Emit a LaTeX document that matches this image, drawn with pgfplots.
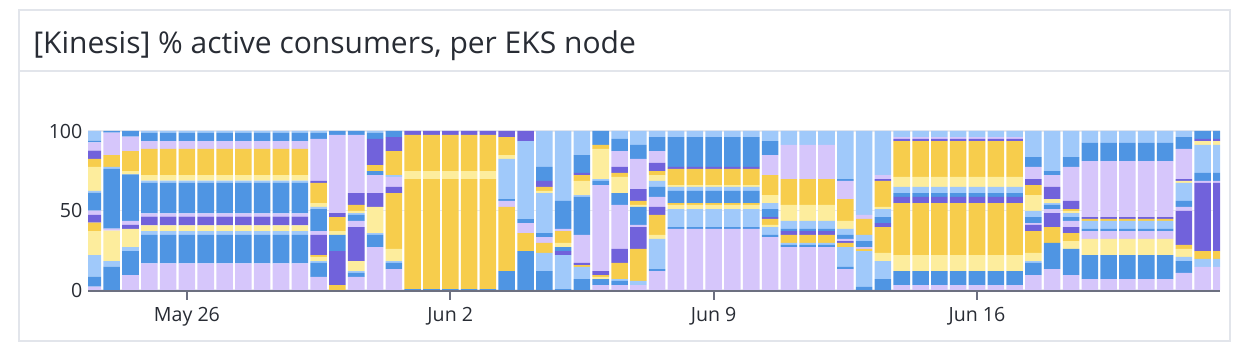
\documentclass[border=0pt]{standalone}
\usepackage{pgfplots}
\pgfplotsset{compat=1.18}
\usepackage{pgfplotstable}
\usepackage{fontspec}
\setmainfont{Open Sans}
\definecolor{cLP}{RGB}{214,198,251}
\definecolor{cB}{RGB}{79,149,227}
\definecolor{cLB}{RGB}{160,201,250}
\definecolor{cLY}{RGB}{253,237,157}
\definecolor{cY}{RGB}{247,205,76}
\definecolor{cDP}{RGB}{113,98,219}
\definecolor{framegray}{RGB}{226,229,235}
\definecolor{axisgray}{RGB}{108,112,128}
\definecolor{gridgray}{RGB}{232,233,238}
\definecolor{txt}{RGB}{40,44,52}

\pgfplotstableread{
x s1 s2 s3 s4 s5 s6 s7 s8 s9 s10 s11 s12 s13 s14 s15
-2.5 2.1 6.3 13.6 15.1 5.2 4.9 2.7 11.3 1.1 15.1 5.0 5.2 5.3 1.0 6.1
-2.0 0 14.7 3.5 19.1 0 0 1.3 37.5 1.3 0 7.5 0 14.1 1.0 0
-1.5 9.4 15.1 2.5 11.4 0 2.5 2.5 29.3 0 2.1 12.6 0 9.0 3.6 0
-1.0 16.8 17.8 2.5 3.6 0 5.4 2.1 19.3 1.3 3.5 16.4 0 5.0 5.3 1.0
-0.5 16.8 17.8 2.5 3.6 0 5.4 2.1 19.3 1.3 3.5 16.4 0 5.0 5.3 1.0
0.0 16.8 17.8 2.5 3.6 0 5.4 2.1 19.3 1.3 3.5 16.4 0 5.0 5.3 1.0
0.5 16.8 17.8 2.5 3.6 0 5.4 2.1 19.3 1.3 3.5 16.4 0 5.0 5.3 1.0
1.0 16.8 17.8 2.5 3.6 0 5.4 2.1 19.3 1.3 3.5 16.4 0 5.0 5.3 1.0
1.5 16.8 17.8 2.5 3.6 0 5.4 2.1 19.3 1.3 3.5 16.4 0 5.0 5.3 1.0
2.0 16.8 17.8 2.5 3.6 0 5.4 2.1 19.3 1.3 3.5 16.4 0 5.0 5.3 1.0
2.5 16.8 17.8 2.5 3.6 0 5.4 2.1 19.3 1.3 3.5 16.4 0 5.0 5.3 1.0
3.0 16.8 17.8 2.5 3.6 0 5.4 2.1 19.3 1.3 3.5 16.4 0 5.0 5.3 1.0
3.5 8.2 8.8 1.2 2.6 1.2 12.6 2.5 13.8 1.3 2.5 12.6 1.3 26.4 4.0 1.0
4.0 0 0 0 0 3.1 21.4 0 10.1 0 2.5 8.8 2.5 49.1 2.5 0
4.5 8.2 2.5 1.2 6.3 0 21.4 3.8 3.8 1.2 1.3 3.8 7.5 36.5 2.5 0
5.0 27.0 7.6 1.2 16.4 0 8.8 11.3 2.5 0 0 3.8 16.4 0 4.0 1.0
5.5 13.2 3.8 1.2 7.6 35.2 3.8 6.3 0 1.2 0 15.1 8.8 0 3.8 0
6.0 0 0.6 0 0 69.2 0 0 0 0 5.0 22.7 2.5 0 0 0
6.5 0 0.6 0 0 69.2 0 0 0 0 5.0 22.7 2.5 0 0 0
7.0 0 0.6 0 0 69.2 0 0 0 0 5.0 22.7 2.5 0 0 0
7.5 0 0.6 0 0 69.2 0 0 0 0 5.0 22.7 2.5 0 0 0
8.0 0 0.6 0 0 69.2 0 0 0 0 5.0 22.7 2.5 0 0 0
8.5 0 11.9 0 0 40.3 0 3.8 1.2 25.2 2.5 11.3 3.8 0 0 0
9.0 0 24.5 0 0 11.3 0 6.3 2.5 49.1 0 0 6.3 0 0 0
9.5 0 11.9 11.4 0 6.3 0 3.7 2.5 25.2 1.3 2.5 3.8 0 8.8 22.6
10.0 0 0.6 21.4 0 0 2.5 0 2.5 0 2.6 7.5 0 1.3 17.6 44.0
10.5 0 6.9 7.6 0 1.2 1.3 17.6 23.9 1.2 8.9 3.7 1.3 0 11.3 15.1
11.0 3.1 3.8 0 1.3 1.2 2.5 54.1 2.6 1.2 18.9 2.5 0 0 8.8 0
11.5 3.1 2.6 1.2 0 10.1 8.8 27.7 7.5 0 10.1 2.5 3.8 10.0 7.6 5.0
12.0 3.1 0 2.6 0 20.1 13.8 1.3 11.3 0 1.3 2.5 7.5 18.9 8.8 8.8
12.5 11.9 1.3 18.9 2.5 12.6 5.0 6.3 6.3 3.8 3.7 2.5 5.1 7.5 8.8 3.8
13.0 38.4 1.2 11.3 2.6 1.2 0 0 7.6 2.5 1.2 10.1 1.3 0 18.8 3.8
13.5 38.4 1.2 11.3 2.6 1.2 0 0 7.6 2.5 1.2 10.1 1.3 0 18.8 3.8
14.0 38.4 1.2 11.3 2.6 1.2 0 0 7.6 2.5 1.2 10.1 1.3 0 18.8 3.8
14.5 38.4 1.2 11.3 2.6 1.2 0 0 7.6 2.5 1.2 10.1 1.3 0 18.8 3.8
15.0 38.4 1.2 11.3 2.6 1.2 0 0 7.6 2.5 1.2 10.1 1.3 0 18.8 3.8
15.5 33.3 1.3 5.0 1.3 3.8 1.2 0 5.0 3.8 5.0 12.6 0 12.6 8.8 6.3
16.0 27.0 1.3 1.3 0 5.0 2.5 0 1.3 5.0 10.1 16.3 0 21.4 0 8.8
16.5 27.0 1.3 1.3 0 5.0 2.5 0 1.3 5.0 10.1 16.3 0 21.4 0 8.8
17.0 27.0 1.3 1.3 0 5.0 2.5 0 1.3 5.0 10.1 16.3 0 21.4 0 8.8
17.5 13.2 1.3 12.5 0 2.6 1.2 1.3 2.5 3.8 5.0 13.8 0 11.4 1.2 30.2
18.0 0 1.9 22.6 0 1.3 0 1.2 3.8 3.8 0 10.1 0 2.5 0 52.8
18.5 0 6.9 11.3 5.1 16.3 2.5 0 3.8 5.0 1.3 16.4 1.2 2.5 0 27.7
19.0 3.1 8.8 0 10.1 32.7 3.8 0 2.5 3.8 6.3 22.6 1.3 1.2 0 3.8
19.5 3.1 8.8 0 10.1 32.7 3.8 0 2.5 3.8 6.3 22.6 1.3 1.2 0 3.8
20.0 3.1 8.8 0 10.1 32.7 3.8 0 2.5 3.8 6.3 22.6 1.3 1.2 0 3.8
20.5 3.1 8.8 0 10.1 32.7 3.8 0 2.5 3.8 6.3 22.6 1.3 1.2 0 3.8
21.0 3.1 8.8 0 10.1 32.7 3.8 0 2.5 3.8 6.3 22.6 1.3 1.2 0 3.8
21.5 3.1 8.8 0 10.1 32.7 3.8 0 2.5 3.8 6.3 22.6 1.3 1.2 0 3.8
22.0 3.1 8.8 0 10.1 32.7 3.8 0 2.5 3.8 6.3 22.6 1.3 1.2 0 3.8
22.5 9.4 7.6 1.2 5.1 13.8 3.8 1.2 3.8 3.8 10.0 6.3 3.8 7.6 6.2 16.4
23.0 13.2 16.4 0 0 10.0 8.8 2.5 2.6 1.2 2.5 0 7.6 7.5 2.5 25.2
23.5 9.4 16.4 0 5.0 5.0 3.8 3.8 2.5 2.5 1.3 1.2 5.1 21.4 6.2 16.4
24.0 6.9 15.1 0 10.1 0 0 5.0 1.3 5.0 0 1.3 1.2 35.2 11.4 7.5
24.5 6.9 15.1 0 10.1 0 0 5.0 1.3 5.0 0 1.3 1.2 35.2 11.4 7.5
25.0 6.9 15.1 0 10.1 0 0 5.0 1.3 5.0 0 1.3 1.2 35.2 11.4 7.5
25.5 6.9 15.1 0 10.1 0 0 5.0 1.3 5.0 0 1.3 1.2 35.2 11.4 7.5
26.0 6.9 15.1 0 10.1 0 0 5.0 1.3 5.0 0 1.3 1.2 35.2 11.4 7.5
26.5 10.7 7.5 2.6 5.0 2.5 21.4 2.5 3.8 11.3 1.3 0 1.2 18.9 7.5 3.8
27.0 14.5 0 5.0 0 5.0 42.8 1.3 5.0 17.6 2.5 0 1.3 0 5.0 0
27.5 14.5 0 5.0 0 5.0 42.8 1.3 5.0 17.6 2.5 0 1.3 0 5.0 0
}\data

\begin{document}
\begin{tikzpicture}
\path[use as bounding box] (0pt,0pt) rectangle (930pt,267pt);
\draw[framegray, line width=1.5pt] (14.25pt,11.25pt) rectangle (922.5pt,259.5pt);
\draw[framegray, line width=1.5pt] (14.25pt,213.75pt) -- (922.5pt,213.75pt);
\node[anchor=base west, inner sep=0pt, text=txt, font=\fontsize{22.5}{27}\selectfont] at (24.75pt,227pt) {[Kinesis] \% active consumers, per EKS node};
\begin{axis}[
  at={(66pt,49.5pt)}, anchor=south west,
  scale only axis, width=849pt, height=119.25pt,
  xmin=-2.63, xmax=27.46, ymin=0, ymax=100,
  enlargelimits=false,
  ybar stacked, bar width=0.44,
  axis x line*=bottom, axis y line*=left,
  x axis line style={axisgray, line width=1.5pt, yshift=-0.75pt},
  y axis line style={draw=none},
  xtick={0,7,14,21},
  xticklabels={May 26, Jun 2, Jun 9, Jun 16},
  ytick={0,50,100},
  tick align=outside,
  major tick length=6.5pt,
  xtick style={axisgray, line width=1.5pt, yshift=-0.75pt},
  ytick style={draw=none},
  ymajorgrids,
  grid style={gridgray, line width=1pt},
  tick label style={text=txt, font=\fontsize{14.7}{17}\selectfont},
  xticklabel style={anchor=base, inner sep=0pt, yshift=-17.3pt},
  yticklabel style={anchor=east, inner sep=0pt, xshift=2.5pt},
  /pgf/number format/assume math mode=true,
]
\addplot[fill=cLP, draw=none] table[x=x, y=s1] {\data};
\addplot[fill=cB, draw=none] table[x=x, y=s2] {\data};
\addplot[fill=cLB, draw=none] table[x=x, y=s3] {\data};
\addplot[fill=cLY, draw=none] table[x=x, y=s4] {\data};
\addplot[fill=cY, draw=none] table[x=x, y=s5] {\data};
\addplot[fill=cDP, draw=none] table[x=x, y=s6] {\data};
\addplot[fill=cLP, draw=none] table[x=x, y=s7] {\data};
\addplot[fill=cB, draw=none] table[x=x, y=s8] {\data};
\addplot[fill=cLB, draw=none] table[x=x, y=s9] {\data};
\addplot[fill=cLY, draw=none] table[x=x, y=s10] {\data};
\addplot[fill=cY, draw=none] table[x=x, y=s11] {\data};
\addplot[fill=cDP, draw=none] table[x=x, y=s12] {\data};
\addplot[fill=cLP, draw=none] table[x=x, y=s13] {\data};
\addplot[fill=cB, draw=none] table[x=x, y=s14] {\data};
\addplot[fill=cLB, draw=none] table[x=x, y=s15] {\data};
\end{axis}
\end{tikzpicture}
\end{document}
